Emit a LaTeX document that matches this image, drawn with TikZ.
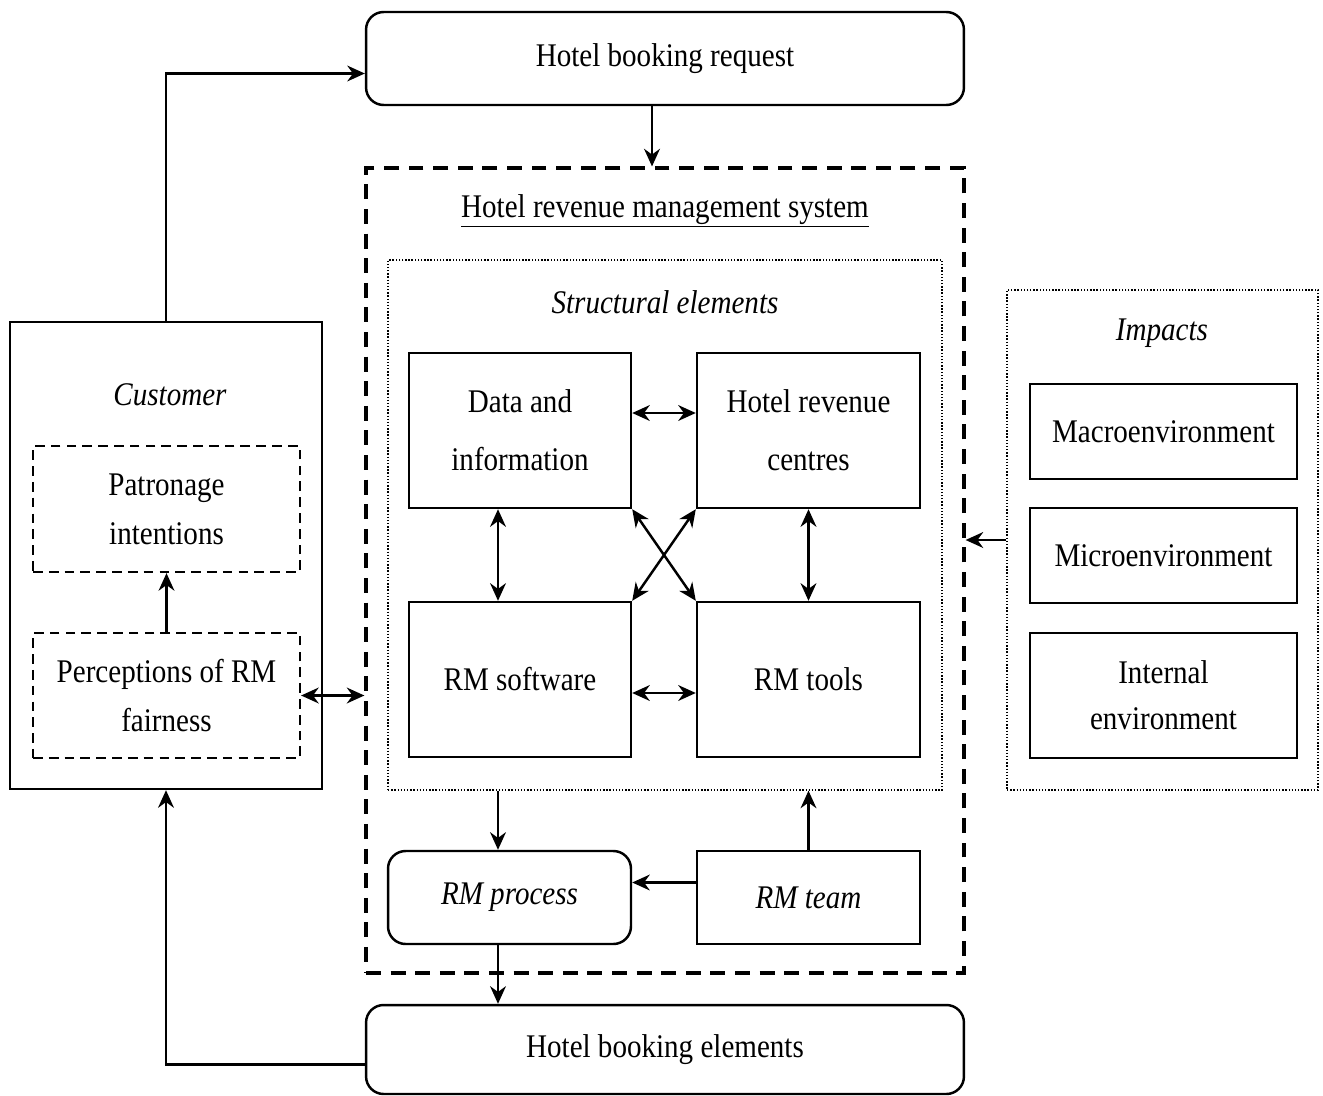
\documentclass[tikz,border=0pt]{standalone}
\usepackage{fontspec}
\setmainfont{Liberation Serif}[FakeStretch=0.88]
\usetikzlibrary{positioning,arrows.meta,calc}

\begin{document}
\begin{tikzpicture}[x=0.02cm,y=-0.02cm,
  >={Stealth[length=10pt,width=9pt]},
  every node/.style={font=\fontsize{18.8}{28}\selectfont,align=center},
  box/.style={draw,line width=1.4pt,inner sep=0pt},
  rbox/.style={box,rounded corners=10pt},
  dbox/.style={draw,line width=1.3pt,dash pattern=on 5.5pt off 3.5pt,inner sep=0pt},
  sysbox/.style={draw,line width=1.9pt,dash pattern=on 8.5pt off 5.5pt,inner sep=0pt},
  dotbox/.style={draw,line width=.8pt,densely dotted,inner sep=0pt},
  lbl/.style={font=\itshape\fontsize{18.8}{28}\selectfont},
  con/.style={line width=1.4pt}]
  \useasboundingbox (0,0) rectangle (1323,1096);

  % top and bottom
  \node[rbox,minimum width=11.96cm,minimum height=1.86cm] (req) at (665,58.5) {Hotel booking request};
  \node[rbox,minimum width=11.96cm,minimum height=1.78cm] (bookel) at (665,1049.5) {Hotel booking elements};

  % revenue management system
  \node[sysbox,minimum width=11.96cm,minimum height=16.1cm] (sys) at (665,570.5) {};
  \node (systitle) at (665,211) {\underline{Hotel revenue management system}};
  \node[dotbox,minimum width=11.08cm,minimum height=10.6cm] (struct) at (665,525) {};
  \node[lbl] (structlbl) at (665,302) {Structural elements};

  \node[box,minimum width=4.44cm,minimum height=3.1cm,font=\fontsize{18.8}{33}\selectfont] (data) at (520,430.5) {Data and\\information};
  \node[box,minimum width=4.46cm,minimum height=3.1cm,font=\fontsize{18.8}{33}\selectfont] (hrc) at (808.5,430.5) {Hotel revenue\\centres};
  \node[box,minimum width=4.44cm,minimum height=3.1cm] (soft) at (520,679.5) {RM software};
  \node[box,minimum width=4.46cm,minimum height=3.1cm] (tools) at (808.5,679.5) {RM tools};

  \node[rbox,minimum width=4.86cm,minimum height=1.86cm,lbl] (proc) at (509.5,897.5) {RM process};
  \node[box,minimum width=4.46cm,minimum height=1.86cm,lbl] (team) at (808.5,897.5) {RM team};

  % customer
  \node[box,minimum width=6.24cm,minimum height=9.34cm] (cust) at (166,555.5) {};
  \node[lbl] (custlbl) at (170,395) {Customer};
  \node[dbox,minimum width=5.34cm,minimum height=2.52cm] (patr) at (166.5,509) {Patronage\\intentions};
  \node[dbox,minimum width=5.34cm,minimum height=2.5cm] (perc) at (166.5,695.5) {Perceptions of RM\\fairness};

  % impacts
  \node[dotbox,minimum width=6.22cm,minimum height=10cm] (imp) at (1162.5,540) {};
  \node[lbl] (implbl) at (1162,333) {Impacts};
  \node[box,minimum width=5.34cm,minimum height=1.9cm] (macro) at (1163.5,431.5) {Macroenvironment};
  \node[box,minimum width=5.34cm,minimum height=1.9cm] (micro) at (1163.5,555.5) {Microenvironment};
  \node[box,minimum width=5.34cm,minimum height=2.5cm,font=\fontsize{18.8}{26}\selectfont] (intern) at (1163.5,695.5) {Internal\\environment};

  % connectors
  \draw[con,->] (cust.north) |- ([yshift=-0.3cm]req.west);
  \draw[con,->] ([xshift=-0.26cm]req.south) -- ([xshift=-0.26cm]sys.north);
  \draw[con,->] (bookel.west) ++(0,15) -| (cust.south);
  \draw[con,->] (perc.north) -- (patr.south);
  \draw[con,<->] (perc.east) -- (perc.east -| sys.west);
  \draw[con,->] (imp.west) -- (imp.west -| sys.east);

  \draw[con,<->] ([yshift=0.35cm]data.east) -- ([yshift=0.35cm]hrc.west);
  \draw[con,<->] ([xshift=-0.44cm]data.south) -- ([xshift=-0.44cm]soft.north);
  \draw[con,<->] (hrc.south) -- (tools.north);
  \draw[con,<->] ([yshift=-0.27cm]soft.east) -- ([yshift=-0.27cm]tools.west);
  \draw[con,<->] (data.south east) -- (tools.north west);
  \draw[con,<->] (hrc.south west) -- (soft.north east);

  \draw[con,->] ([xshift=-0.23cm]proc.north |- struct.south) -- ([xshift=-0.23cm]proc.north);
  \draw[con,->] (team.north) -- (team.north |- struct.south);
  \draw[con,->] ([yshift=0.3cm]team.west) -- ([yshift=0.3cm]proc.east);
  \draw[con,->] ([xshift=-0.23cm]proc.south) -- ([xshift=-0.23cm]proc.south |- bookel.north);
\end{tikzpicture}
\end{document}
